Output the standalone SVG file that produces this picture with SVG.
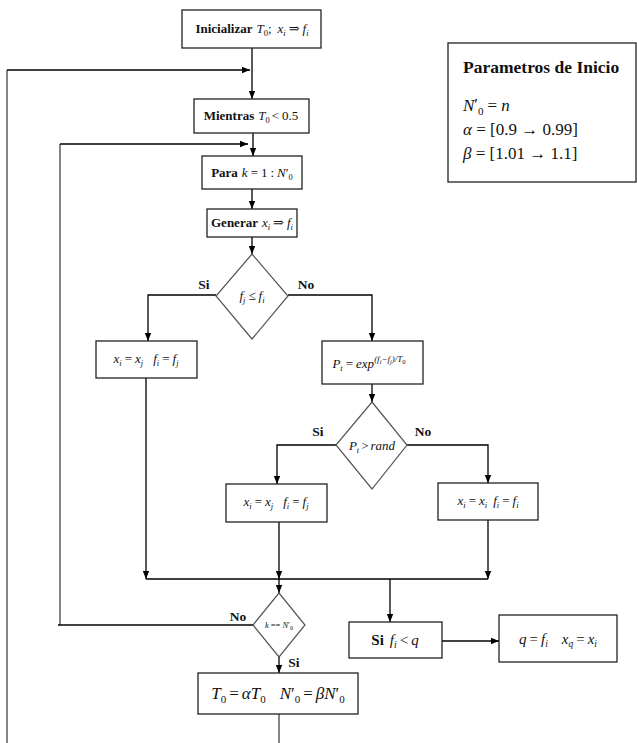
<svg xmlns="http://www.w3.org/2000/svg" width="637" height="743" viewBox="0 0 637 743">
<defs>
<marker id="ah" viewBox="0 0 10 10" refX="10" refY="5" markerWidth="8" markerHeight="8" markerUnits="userSpaceOnUse" orient="auto"><path d="M0,1 L10,5 L0,9 z" fill="#000"/></marker>
<style>
.b{fill:#fff;stroke:#222;stroke-width:1.3}
.d{fill:#fff;stroke:#555;stroke-width:1.2}
.c{fill:none;stroke:#000;stroke-width:1.3}
.ca{fill:none;stroke:#000;stroke-width:1.3;marker-end:url(#ah)}
.g{fill:none;stroke:#444;stroke-width:1.3}
text{font-family:"Liberation Serif","DejaVu Serif",serif;fill:#111}
.t{font-size:13px;text-anchor:middle}
.bd{font-weight:bold}
.i{font-style:italic}
.lbl{font-size:13.5px;font-weight:bold;text-anchor:middle}
</style>
</defs>
<rect width="637" height="743" fill="#fff"/>

<g id="connectors">
<path class="ca" d="M252,48 V99"/>
<path class="g" d="M7,743 V70"/>
<path class="ca" d="M7,70 H250"/>
<path class="ca" d="M253,133 V156"/>
<path class="g" d="M60,625 V144"/>
<path class="ca" d="M60,144 H248"/>
<path class="c" d="M253,625 H58"/>
<path class="ca" d="M252,189 V209"/>
<path class="ca" d="M252,237 V254"/>
<path class="ca" d="M216,295 H148 V341"/>
<path class="ca" d="M288,295 H372 V341"/>
<path class="ca" d="M372,384 V402"/>
<path class="ca" d="M336,445 H277 V484"/>
<path class="ca" d="M407,445 H488 V483"/>
<path class="ca" d="M146,378 V579"/>
<path class="ca" d="M279,522 V579"/>
<path class="ca" d="M488,520 V579"/>
<path class="c" d="M146,579 H488"/>
<path class="ca" d="M279,579 V593"/>
<path class="ca" d="M390,579 V622"/>
<path class="ca" d="M279,657 V673"/>
<path class="g" d="M279,714 V743"/>
<path class="ca" d="M442,641 H499"/>
</g>

<g id="init">
<rect class="b" x="182" y="10" width="139" height="38"/>
<text class="t" x="252" y="33"><tspan class="bd">Inicializar</tspan><tspan class="i" dx="4">T</tspan><tspan font-size="8.5" dy="3">0</tspan><tspan dy="-3">;</tspan><tspan class="i" dx="6">x</tspan><tspan font-size="8.5" dy="3" class="i">i</tspan><tspan dy="-3" dx="3">⇒</tspan><tspan class="i" dx="3">f</tspan><tspan font-size="8.5" dy="3" class="i">i</tspan></text>
</g>

<g id="params">
<rect class="b" x="448" y="43" width="188" height="139"/>
<text x="463" y="73" font-size="17.5" font-weight="bold">Parametros de Inicio</text>
<text x="463" y="111" font-size="17"><tspan class="i">N</tspan><tspan dy="-1">′</tspan><tspan font-size="11" dy="5">0</tspan><tspan dy="-4" dx="4">=</tspan><tspan class="i" dx="4">n</tspan></text>
<text x="463" y="135" font-size="17"><tspan class="i">α</tspan> = [0.9 → 0.99]</text>
<text x="463" y="159" font-size="17"><tspan class="i">β</tspan> = [1.01 → 1.1]</text>
</g>

<g id="mientras">
<rect class="b" x="194" y="99" width="115" height="34"/>
<text class="t" x="251" y="120"><tspan class="bd">Mientras</tspan><tspan class="i" dx="4">T</tspan><tspan font-size="8.5" dy="3">0</tspan><tspan dy="-3" dx="2">&lt;</tspan><tspan dx="3">0.5</tspan></text>
</g>

<g id="para">
<rect class="b" x="202" y="156" width="100" height="33"/>
<text class="t" x="252" y="177"><tspan class="bd">Para</tspan><tspan class="i" dx="4">k</tspan><tspan dx="3">=</tspan><tspan dx="3">1</tspan><tspan dx="3">:</tspan><tspan class="i" dx="3">N</tspan>′<tspan font-size="8.5" dy="3">0</tspan></text>
</g>

<g id="generar">
<rect class="b" x="207" y="209" width="90" height="28"/>
<text class="t" x="252" y="227"><tspan class="bd">Generar</tspan><tspan class="i" dx="4">x</tspan><tspan font-size="8.5" dy="3" class="i">i</tspan><tspan dy="-3" dx="3">⇒</tspan><tspan class="i" dx="3">f</tspan><tspan font-size="8.5" dy="3" class="i">i</tspan></text>
</g>

<g id="dec1">
<polygon class="d" points="252,254 288,296 252,339 216,296"/>
<text class="t" x="252" y="300"><tspan class="i">f</tspan><tspan font-size="8.5" dy="3" class="i">j</tspan><tspan dy="-3" dx="3">≤</tspan><tspan class="i" dx="3">f</tspan><tspan font-size="8.5" dy="3" class="i">i</tspan></text>
<text class="lbl" x="204" y="289">Si</text>
<text class="lbl" x="306" y="289">No</text>
</g>

<g id="accept1">
<rect class="b" x="96" y="341" width="101" height="37"/>
<text class="t" x="146" y="363"><tspan class="i">x</tspan><tspan font-size="8.5" dy="3" class="i">i</tspan><tspan dy="-3" dx="3">=</tspan><tspan class="i" dx="3">x</tspan><tspan font-size="8.5" dy="3" class="i">j</tspan><tspan class="i" dy="-3" dx="10">f</tspan><tspan font-size="8.5" dy="3" class="i">i</tspan><tspan dy="-3" dx="3">=</tspan><tspan class="i" dx="3">f</tspan><tspan font-size="8.5" dy="3" class="i">j</tspan></text>
</g>

<g id="prob">
<rect class="b" x="322" y="341" width="101" height="43"/>
<text class="t" x="369" y="368"><tspan class="i">P</tspan><tspan font-size="8.5" dy="3" class="i">t</tspan><tspan dy="-3" dx="3">=</tspan><tspan class="i" dx="3">exp</tspan><tspan font-size="9" dy="-6" class="i">(f</tspan><tspan font-size="6.5" dy="1.5" class="i">i</tspan><tspan font-size="9" dy="-1.5" class="i">−f</tspan><tspan font-size="6.5" dy="1.5" class="i">j</tspan><tspan font-size="9" dy="-1.5" class="i">)/T</tspan><tspan font-size="6.5" dy="1.5">0</tspan></text>
</g>

<g id="dec2">
<polygon class="d" points="372,402 407,445 372,489 336,445"/>
<text class="t" x="372" y="450"><tspan class="i">P</tspan><tspan font-size="8.5" dy="3" class="i">t</tspan><tspan dy="-3" dx="2">&gt;</tspan><tspan class="i" dx="2">rand</tspan></text>
<text class="lbl" x="318" y="436">Si</text>
<text class="lbl" x="423" y="436">No</text>
</g>

<g id="accept2">
<rect class="b" x="226" y="484" width="101" height="38"/>
<text class="t" x="276" y="506"><tspan class="i">x</tspan><tspan font-size="8.5" dy="3" class="i">i</tspan><tspan dy="-3" dx="3">=</tspan><tspan class="i" dx="3">x</tspan><tspan font-size="8.5" dy="3" class="i">j</tspan><tspan class="i" dy="-3" dx="10">f</tspan><tspan font-size="8.5" dy="3" class="i">i</tspan><tspan dy="-3" dx="3">=</tspan><tspan class="i" dx="3">f</tspan><tspan font-size="8.5" dy="3" class="i">j</tspan></text>
</g>

<g id="reject">
<rect class="b" x="438" y="483" width="100" height="37"/>
<text class="t" x="488" y="505"><tspan class="i">x</tspan><tspan font-size="8.5" dy="3" class="i">i</tspan><tspan dy="-3" dx="3">=</tspan><tspan class="i" dx="3">x</tspan><tspan font-size="8.5" dy="3" class="i">i</tspan><tspan class="i" dy="-3" dx="6">f</tspan><tspan font-size="8.5" dy="3" class="i">i</tspan><tspan dy="-3" dx="3">=</tspan><tspan class="i" dx="3">f</tspan><tspan font-size="8.5" dy="3" class="i">i</tspan></text>
</g>

<g id="dec3">
<polygon class="d" points="279,593 305,625 279,657 253,625"/>
<text x="279" y="628" font-size="8.5" text-anchor="middle"><tspan class="i">k</tspan><tspan dx="2">==</tspan><tspan class="i" dx="2">N</tspan>′<tspan font-size="6" dy="2">0</tspan></text>
<text class="lbl" x="238" y="621">No</text>
<text class="lbl" x="294" y="667">Si</text>
</g>

<g id="best">
<rect class="b" x="349" y="622" width="93" height="36"/>
<text x="395" y="645" font-size="15" text-anchor="middle"><tspan class="bd">Si</tspan><tspan class="i" dx="6">f</tspan><tspan font-size="9.5" dy="3" class="i">i</tspan><tspan dy="-3" dx="3">&lt;</tspan><tspan class="i" dx="3">q</tspan></text>
</g>

<g id="update">
<rect class="b" x="499" y="615" width="118" height="47"/>
<text x="558" y="644" font-size="15" text-anchor="middle"><tspan class="i">q</tspan><tspan dx="3">=</tspan><tspan class="i" dx="3">f</tspan><tspan font-size="9.5" dy="3" class="i">i</tspan><tspan class="i" dy="-3" dx="14">x</tspan><tspan font-size="9.5" dy="3" class="i">q</tspan><tspan dy="-3" dx="3">=</tspan><tspan class="i" dx="3">x</tspan><tspan font-size="9.5" dy="3" class="i">i</tspan></text>
</g>

<g id="cool">
<rect class="b" x="198" y="673" width="160" height="41"/>
<text x="278" y="699" font-size="17" text-anchor="middle"><tspan class="i">T</tspan><tspan font-size="11" dy="4">0</tspan><tspan dy="-4" dx="3">=</tspan><tspan class="i" dx="3">αT</tspan><tspan font-size="11" dy="4">0</tspan><tspan class="i" dy="-4" dx="14">N</tspan>′<tspan font-size="11" dy="4">0</tspan><tspan dy="-4" dx="3">=</tspan><tspan class="i" dx="3">βN</tspan>′<tspan font-size="11" dy="4">0</tspan></text>
</g>
</svg>
